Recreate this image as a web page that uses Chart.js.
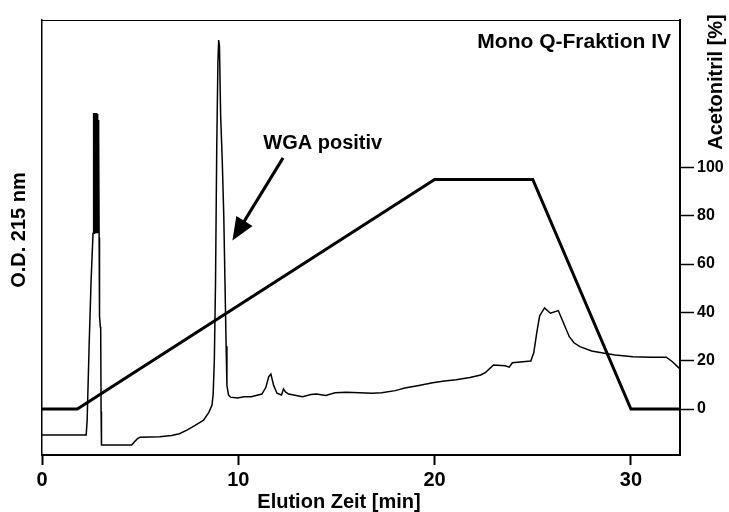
<!DOCTYPE html>
<html><head><meta charset="utf-8">
<script src="https://cdn.jsdelivr.net/npm/chart.js@4.4.1/dist/chart.umd.min.js"></script>
<style>html,body{margin:0;padding:0;background:#fff}#wrap{width:729px;height:512px;position:relative}</style>
</head><body><div id="wrap"><canvas id="c" width="729" height="512"></canvas></div>
<script>
// ---- data ----
const odTimes = [0,2.25,2.3,2.4,2.5,2.6,
  2.62,2.63,2.64,2.65,2.66,2.67,2.68,2.69,2.70,2.71,2.72,2.73,2.74,2.75,2.76,2.77,2.78,2.79,2.80,2.81,2.82,2.83,2.84,2.85,2.86,2.87,2.88,2.89,2.90,2.91,
  2.93,2.97,2.99,3.01,3.03,
  4.57,4.7,4.85,5.0,6.0,6.6,7.0,7.38,7.8,8.23,8.5,8.66,8.72,8.78,8.84,8.9,8.96,9.0,9.04,9.1,9.18,9.26,9.32,9.38,9.42,9.5,9.6,
  9.95,10.3,10.66,11.2,11.4,11.55,11.66,11.8,11.97,12.2,12.3,12.4,12.56,13.27,13.7,13.98,14.45,14.93,15.5,16.82,17.3,18.0,18.48,
  19.2,19.9,20.5,21.1,21.8,22.35,22.6,23.0,23.6,23.8,23.96,24.9,25.05,25.2,25.35,25.6,25.9,26.3,26.55,26.86,27.1,27.4,28.0,
  28.5,29.2,30.1,31.0,31.8,32.1,32.4,32.5];
const odValues = [4.6,4.6,8,25,40,51,
  78,52,78.6,51,78.4,53,78.6,52,78,51,78.6,54,78.2,52,78.6,51,78,53,78.6,52,77.8,51,78.4,53,77,52,76,51,74,50,
  32,29.5,29,10,2.3,
  2.3,3.0,3.7,4.1,4.2,4.5,4.9,5.7,6.8,8.0,9.8,11.5,14,22,40,70,90,95.4,94,78,68,55,40,25,16,13.8,13.3,
  13.1,13.4,13.4,14,15.5,18,18.6,16,14.2,13.8,15.2,14.5,14,13.4,13.9,14,13.7,14.3,14.4,14.2,14.3,14.8,15.4,
  16,16.6,17,17.3,17.8,18.4,19.0,20.7,20.5,20.2,21.2,21.6,23.5,28,32,33.8,32.6,33.2,30.5,27.2,25.8,24.9,23.9,
  23.5,23.0,22.6,22.5,22.5,21.5,20.2,19.8];
const gradTimes = [0, 1.8, 20, 25, 30, 32.5];
const gradValues = [0, 0, 95, 95, 0, 0];
const xTickValues = [0, 10, 20, 30];
const rightTickValues = [0, 20, 40, 60, 80, 100];

const FONT = '"Liberation Sans", Arial, Helvetica, sans-serif';

const odData = odTimes.map((t,i)=>({x:t, y:odValues[i]}));
const gradData = gradTimes.map((t,i)=>({x:t, y:gradValues[i]}));

const annot = {
  arrowTail: {x: 12.28, y: 68.3},
  arrowTip: {x: 9.7, y: 49.3},
  label: {x: 14.3, y: 71.5, text: 'WGA positiv'}
};

const deco = {
  id: 'deco',
  afterDraw(chart) {
    const ctx = chart.ctx, ca = chart.chartArea;
    const xs = chart.scales.x, ys = chart.scales.yOD;
    ctx.save();
    ctx.strokeStyle = '#000'; ctx.lineWidth = 1;
    ctx.beginPath(); ctx.moveTo(ca.left, ca.top + 0.5); ctx.lineTo(ca.right, ca.top + 0.5); ctx.stroke();
    ctx.fillStyle = '#000';
    ctx.font = 'bold 20px ' + FONT;
    ctx.textAlign = 'center'; ctx.textBaseline = 'middle';
    ctx.fillText('Elution Zeit [min]', 339, 502);
    ctx.save(); ctx.translate(19, 230); ctx.rotate(-Math.PI/2); ctx.fillText('O.D. 215 nm', 0, 0); ctx.restore();
    ctx.save(); ctx.translate(716, 82); ctx.rotate(-Math.PI/2); ctx.fillText('Acetonitril [%]', 0, 0); ctx.restore();
    ctx.font = 'bold 21px ' + FONT;
    ctx.textAlign = 'right';
    ctx.fillText('Mono Q-Fraktion IV', ca.right - 9, ca.top + 22);
    ctx.font = 'bold 20px ' + FONT;
    ctx.textAlign = 'center';
    ctx.fillText(annot.label.text, xs.getPixelForValue(annot.label.x), ys.getPixelForValue(annot.label.y));
    const tx = xs.getPixelForValue(annot.arrowTail.x), ty = ys.getPixelForValue(annot.arrowTail.y);
    const hx = xs.getPixelForValue(annot.arrowTip.x), hy = ys.getPixelForValue(annot.arrowTip.y);
    const dx = hx - tx, dy = hy - ty, L = Math.hypot(dx, dy), ux = dx / L, uy = dy / L;
    const headLen = 23, headHalf = 9.5;
    const bx = hx - ux * headLen, by = hy - uy * headLen;
    ctx.lineWidth = 3; ctx.lineCap = 'butt';
    ctx.beginPath(); ctx.moveTo(tx, ty); ctx.lineTo(bx + ux*2, by + uy*2); ctx.stroke();
    ctx.beginPath();
    ctx.moveTo(hx, hy);
    ctx.lineTo(bx - uy * headHalf, by + ux * headHalf);
    ctx.lineTo(bx + uy * headHalf, by - ux * headHalf);
    ctx.closePath(); ctx.fill();
    ctx.restore();
  }
};

new Chart(document.getElementById('c'), {
  type: 'line',
  data: {
    datasets: [
      {data: odData, yAxisID: 'yOD', borderColor: '#000', borderWidth: 1.5, pointRadius: 0, tension: 0, fill: false},
      {data: gradData, yAxisID: 'yAcn', borderColor: '#000', borderWidth: 3, pointRadius: 0, tension: 0, fill: false}
    ]
  },
  options: {
    responsive: false, animation: false, devicePixelRatio: 1,
    layout: {padding: {top: 20, left: 0, right: 0, bottom: 0}},
    plugins: {legend: {display: false}, tooltip: {enabled: false}, title: {display: false}},
    scales: {
      x: {
        type: 'linear', min: 0, max: 32.5,
        afterBuildTicks: s => { s.ticks = xTickValues.map(v => ({value: v})); },
        afterFit: s => { s.height = 57; },
        ticks: {color: '#000', font: {family: FONT, size: 20, weight: 'bold'}, padding: 3, maxRotation: 0, autoSkip: false},
        grid: {display: true, drawOnChartArea: false, drawTicks: true, tickLength: 10, tickWidth: 2, tickColor: '#000'},
        border: {display: true, color: '#000', width: 2}
      },
      yOD: {
        type: 'linear', position: 'left', min: 0, max: 100,
        afterFit: s => { s.width = 42; },
        ticks: {display: false},
        grid: {display: false},
        border: {display: true, color: '#000', width: 1.5}
      },
      yAcn: {
        type: 'linear', position: 'right', min: -19, max: 161,
        afterBuildTicks: s => { s.ticks = rightTickValues.map(v => ({value: v})); },
        afterFit: s => { s.width = 49; },
        ticks: {color: '#000', font: {family: FONT, size: 16, weight: 'bold'}, padding: 3},
        grid: {display: true, drawOnChartArea: false, drawTicks: true, tickLength: 14, tickWidth: 1.5, tickColor: '#000'},
        border: {display: true, color: '#000', width: 2}
      }
    }
  },
  plugins: [deco]
});
</script>
</body></html>
